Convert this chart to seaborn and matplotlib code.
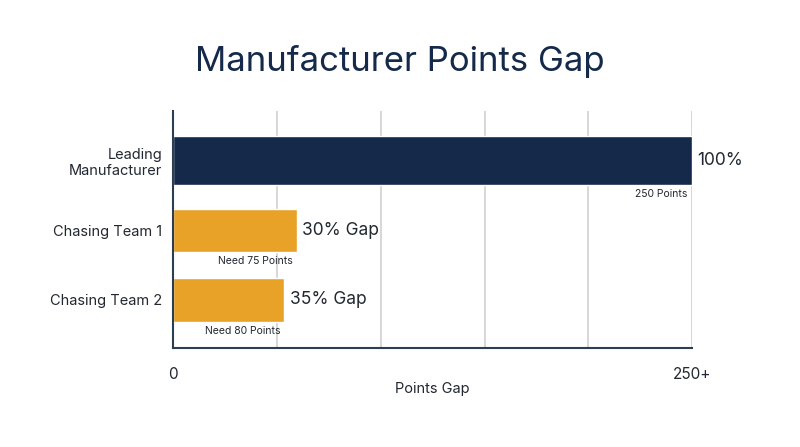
import matplotlib
matplotlib.use("Agg")
import matplotlib.pyplot as plt
import pandas as pd
import seaborn as sns

# data
teams = ["Leading\nManufacturer", "Chasing Team 1", "Chasing Team 2"]
bar_values = [250, 59.5, 53.5]
pct_labels = ["100%", "30% Gap", "35% Gap"]
point_labels = ["250 Points", "Need 75 Points", "Need 80 Points"]
grid_ticks = [0, 50, 100, 150, 200, 250]
tick_labels = ["0", "", "", "", "", "250+"]

NAVY = "#15294b"
GOLD = "#e8a227"
TEXT = "#222831"

sns.set_theme(style="white")
plt.rcParams["font.family"] = ["Inter", "DejaVu Sans"]

df = pd.DataFrame({"team": teams, "value": bar_values})

fig = plt.figure(figsize=(8, 4.47), dpi=100)
ax = fig.add_axes([0.2167, 0.2215, 0.865 - 0.2167, 0.7517 - 0.2215])

# leader bar is a bit thicker than the chasers
sns.barplot(data=df.iloc[:1], x="value", y="team", order=teams, color=NAVY,
            width=0.69, saturation=1, ax=ax, zorder=3)
sns.barplot(data=df.iloc[1:], x="value", y="team", order=teams, color=GOLD,
            width=0.62, saturation=1, ax=ax, zorder=3)

ax.set_xlim(0, 250)
ax.set_ylim(2.69, -0.71)
ax.set_xticks(grid_ticks)
ax.set_xticklabels(tick_labels)
ax.xaxis.grid(True, color="#d4d4d4", linewidth=1.3, zorder=0)
ax.yaxis.grid(False)

for s in ["top", "right"]:
    ax.spines[s].set_visible(False)
for s in ["left", "bottom"]:
    ax.spines[s].set_color("#2c3e50")
    ax.spines[s].set_linewidth(1.5)
    ax.spines[s].set_zorder(4)

ax.tick_params(axis="x", length=0, pad=14, labelsize=11, labelcolor=TEXT)
ax.tick_params(axis="y", length=0, pad=8, labelsize=10.5, labelcolor=TEXT)
ax.set_xlabel("Points Gap", fontsize=10.5, color=TEXT, labelpad=0)
ax.set_ylabel("")

for i, (v, pct, pts) in enumerate(zip(bar_values, pct_labels, point_labels)):
    ax.annotate(pct, (v, i), xytext=(4, 0), textcoords="offset points",
                ha="left", va="center", fontsize=12.5, color=TEXT)
    half = 0.69 / 2 if i == 0 else 0.62 / 2
    ax.annotate(pts, (v, i + half), xytext=(-3, -3), textcoords="offset points",
                ha="right", va="top", fontsize=7.5, color=TEXT)

fig.suptitle("Manufacturer Points Gap", fontsize=25, color=NAVY, x=0.5,
             y=1 - 62 / 447, va="center")

fig.savefig("out.png", dpi=100, facecolor="white")
